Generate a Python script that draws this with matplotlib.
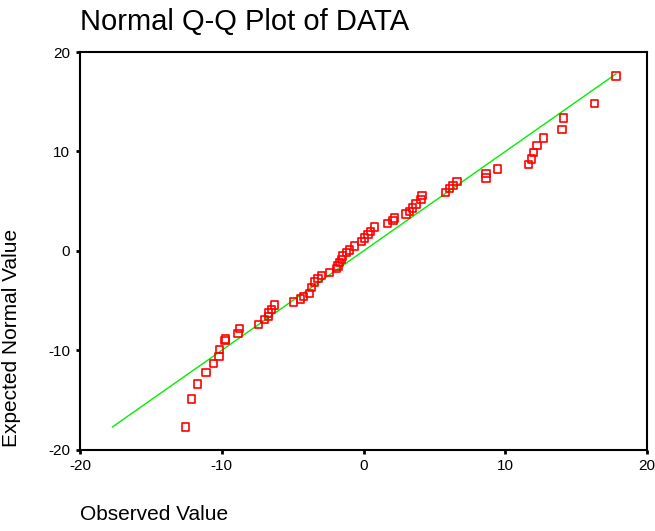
import matplotlib
matplotlib.use('Agg')
import matplotlib.pyplot as plt

plt.rcParams['font.family'] = ['Liberation Sans', 'DejaVu Sans']
plt.rcParams['axes.unicode_minus'] = False

observed = [-12.56, -12.13, -11.71, -11.1, -10.6, -10.2, -10.16, -9.77, -9.75,
            -8.85, -8.73, -7.42, -6.99, -6.69, -6.71, -6.48, -6.27, -4.95,
            -4.44, -4.23, -3.8, -3.68, -3.45, -3.22, -2.98, -2.39, -1.92,
            -1.81, -1.69, -1.57, -1.46, -1.22, -0.99, -0.63, -0.16, 0.07,
            0.31, 0.47, 0.77, 1.67, 2.07, 2.2, 3.0, 3.24, 3.47, 3.71, 4.06,
            4.13, 5.77, 6.05, 6.3, 6.58, 8.64, 8.64, 9.46, 11.65, 11.86,
            11.97, 12.23, 12.68, 14.0, 14.08, 16.27, 17.8]
expected = [-17.7, -14.9, -13.4, -12.2, -11.3, -10.6, -9.9, -9.0, -8.85,
            -8.28, -7.78, -7.37, -6.9, -6.6, -6.23, -5.9, -5.45, -5.15,
            -4.85, -4.58, -4.3, -3.7, -3.13, -2.76, -2.46, -2.19, -1.79,
            -1.52, -1.18, -0.84, -0.5, -0.17, 0.1, 0.5, 0.94, 1.28, 1.62,
            1.95, 2.42, 2.76, 3.03, 3.3, 3.7, 3.97, 4.3, 4.7, 5.2, 5.55, 5.9,
            6.3, 6.6, 6.97, 7.34, 7.8, 8.25, 8.7, 9.26, 9.87, 10.6, 11.35,
            12.2, 13.36, 14.85, 17.6]
ref_line = [-17.7, 17.8]
ticks = [-20, -10, 0, 10, 20]

fig = plt.figure(figsize=(6.55, 5.31), dpi=100)
ax = fig.add_axes([0.122, 0.153, 0.866, 0.749])

ax.plot(ref_line, ref_line, color='#00f000', lw=1.0, zorder=1)
ax.scatter(observed, expected, marker='s', s=28, facecolors='none',
           edgecolors='#ff0000', linewidths=1.2, zorder=2)

ax.set_xlim(-20, 20)
ax.set_ylim(-20, 20)
ax.set_xticks(ticks)
ax.set_yticks(ticks)
ax.tick_params(direction='out', length=3, width=2, labelsize=11, pad=4)
for s in ax.spines.values():
    s.set_linewidth(1.5)

fig.text(0.122, 0.958, 'Normal Q-Q Plot of DATA', fontsize=21, ha='left', va='center')
fig.text(0.122, 0.032, 'Observed Value', fontsize=15, ha='left', va='center')
fig.text(0.018, 0.158, 'Expected Normal Value', fontsize=15, rotation=90,
         ha='center', va='bottom')

fig.savefig('out.png', dpi=100)
